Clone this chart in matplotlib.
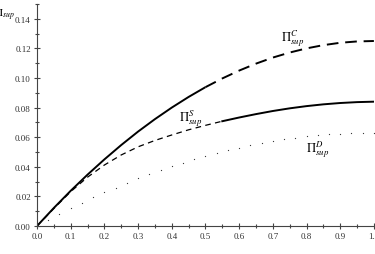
import matplotlib
matplotlib.use("Agg")
import matplotlib.pyplot as plt
from matplotlib.ticker import MultipleLocator

# data
x = [0.0, 0.05, 0.1, 0.15, 0.2, 0.25, 0.3, 0.35, 0.4, 0.45, 0.5,
     0.55, 0.6, 0.65, 0.7, 0.75, 0.8, 0.85, 0.9, 0.95, 1.0]
pi_c = [0.0, 0.0122, 0.0238, 0.0347, 0.045, 0.0547, 0.0638, 0.0722, 0.08, 0.0872, 0.0938,
        0.0997, 0.105, 0.1097, 0.1138, 0.1172, 0.12, 0.1222, 0.1238, 0.1247, 0.125]
pi_s = [0.0, 0.0118, 0.0232, 0.033, 0.0412, 0.048, 0.0535, 0.0578, 0.0615, 0.065, 0.068,
        0.0708, 0.0733, 0.0756, 0.0777, 0.0795, 0.081, 0.0822, 0.0831, 0.0837, 0.084]
x_d = [i / 30 for i in range(31)]
pi_d = [0.0, 0.0041, 0.0081, 0.012, 0.0157, 0.0193, 0.0227, 0.026, 0.0291, 0.0321, 0.035,
        0.0377, 0.0403, 0.0428, 0.0451, 0.0473, 0.0493, 0.0512, 0.0529, 0.0545, 0.056,
        0.0573, 0.0585, 0.0596, 0.0605, 0.0613, 0.0619, 0.0624, 0.0627, 0.0629, 0.063]
split_c = 10   # C solid up to x=0.5, dashed after
split_s = 11   # S dashed up to x=0.55, solid after

x_ticks = [0.0, 0.1, 0.2, 0.3, 0.4, 0.5, 0.6, 0.7, 0.8, 0.9, 1.0]
y_ticks = [0.00, 0.02, 0.04, 0.06, 0.08, 0.10, 0.12, 0.14]

plt.rcParams['mathtext.fontset'] = 'stix'

fig = plt.figure(figsize=(3.75, 2.55), dpi=100)
ax = fig.add_axes([0.0987, 0.1098, 0.8983, 0.8706])

ax.plot(x[:split_c + 1], pi_c[:split_c + 1], color='black', lw=1.4, solid_capstyle='butt')
ax.plot(x[split_c:], pi_c[split_c:], color='black', lw=1.4, dashes=(6, 3.5))
ax.plot(x[:split_s + 1], pi_s[:split_s + 1], color='black', lw=0.9, dashes=(4.5, 3.5))
ax.plot(x[split_s:], pi_s[split_s:], color='black', lw=1.4)
ax.plot(x_d, pi_d, linestyle='none', marker='o', markersize=0.9, markeredgewidth=0,
        color='#333333')

ax.set_xlim(0, 1)
ax.set_ylim(0, 0.15)
for s in ['top', 'right']:
    ax.spines[s].set_visible(False)
for s in ['left', 'bottom']:
    ax.spines[s].set_color('#444444')
    ax.spines[s].set_linewidth(0.8)

ax.set_xticks(x_ticks)
ax.set_xticklabels([f"{v:.1f}" for v in x_ticks])
ax.set_yticks(y_ticks)
ax.set_yticklabels([f"{v:.2f}" for v in y_ticks])
ax.xaxis.set_minor_locator(MultipleLocator(0.05))
ax.yaxis.set_minor_locator(MultipleLocator(0.01))
ax.tick_params(which='major', direction='inout', length=5, width=0.8, color='#444444',
               labelsize=6.5, labelcolor='#333333', pad=2)
ax.tick_params(which='minor', direction='inout', length=3, width=0.8, color='#444444')
for lab in ax.get_xticklabels() + ax.get_yticklabels():
    lab.set_fontfamily('Liberation Serif')

ax.text(0.76, 0.127, r'$\Pi^{C}_{sup}$', fontsize=9, ha='center', va='center')
ax.text(0.455, 0.0735, r'$\Pi^{S}_{sup}$', fontsize=9, ha='center', va='center')
ax.text(0.834, 0.052, r'$\Pi^{D}_{sup}$', fontsize=9, ha='center', va='center')

fig.text(15 / 375, 1 - 15 / 255, r'$\Pi_{sup}$', fontsize=8, ha='right', va='center')

fig.savefig('out.png', dpi=100)
